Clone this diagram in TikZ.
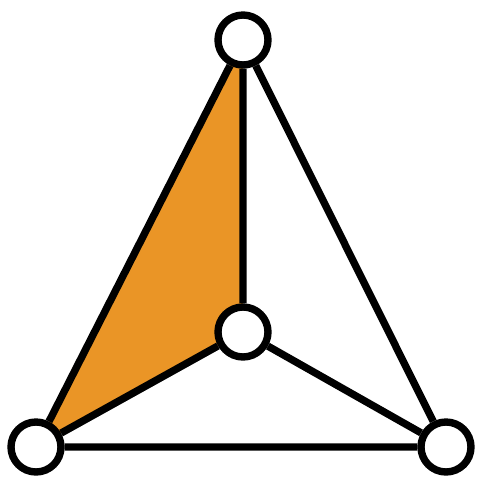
\documentclass[tikz,border=0pt]{standalone}
\usepackage{xcolor}
\usepackage{tikz}
\usetikzlibrary{backgrounds}
\definecolor{faceorange}{RGB}{234,149,38}

\begin{document}
\begin{tikzpicture}[x=0.02cm, y=-0.02cm]
\tikzstyle{n}=[circle,draw,fill=white,line width=4.2pt,minimum size=1cm,inner sep=0pt]
\tikzstyle{e}=[line width=4.2pt]
\useasboundingbox (0,0) rectangle (501,487);
\node[n] (a) at (243,40) {};
\node[n] (b) at (36,447) {};
\node[n] (c) at (446,447) {};
\node[n] (d) at (243,332) {};
\begin{scope}[on background layer]
\fill[faceorange] (a.center) -- (b.center) -- (d.center) -- cycle;
\draw[e] (a)--(b) (a)--(c) (b)--(c) (a)--(d) (b)--(d) (c)--(d);
\end{scope}
\end{tikzpicture}
\end{document}
